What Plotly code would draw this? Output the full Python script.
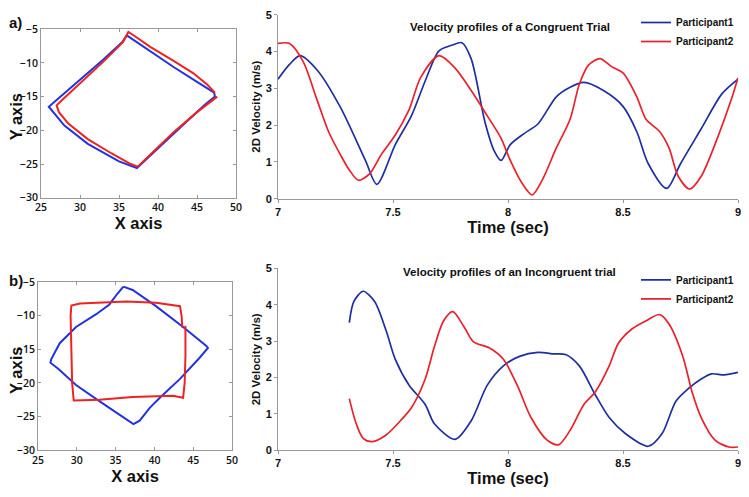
import plotly.graph_objects as go

# --- trajectories (top: congruent, bottom: incongruent) ---
traj_a_p1_x = [36.0, 38.0, 42.0, 45.0, 47.2, 47.3, 46.0, 42.0, 39.0, 37.3, 35.0, 31.0, 28.0, 26.0, 27.0, 30.0, 33.0, 35.5, 36.0]
traj_a_p1_y = [-5.9, -7.5, -10.6, -12.8, -14.4, -15.0, -16.2, -20.5, -23.8, -25.6, -24.6, -22.0, -19.3, -16.5, -15.5, -12.5, -9.5, -6.8, -5.9]
traj_a_p2_x = [47.6, 45.0, 42.0, 39.5, 37.4, 36.5, 34.0, 31.0, 28.5, 27.3, 27.0, 27.6, 30.0, 33.0, 35.5, 36.2, 37.0, 39.0, 42.0, 44.5, 46.3, 47.3]
traj_a_p2_y = [-15.0, -17.3, -20.3, -23.0, -25.4, -25.0, -23.4, -21.3, -19.0, -17.3, -16.3, -15.6, -13.0, -9.8, -6.9, -5.4, -6.0, -7.6, -9.7, -11.5, -13.2, -14.4]

traj_b_p1_x = [36.0, 35.2, 34.2, 32.5, 29.9, 27.8, 26.7, 26.6, 27.6, 29.9, 32.9, 36.0, 37.3, 38.1, 39.4, 40.7, 43.3, 45.8, 46.9, 46.7, 43.7, 40.2, 37.2, 36.0]
traj_b_p1_y = [-5.7, -6.8, -8.35, -9.8, -11.7, -14.1, -16.5, -17.0, -17.9, -20.3, -22.7, -25.1, -26.1, -25.6, -23.7, -22.2, -19.4, -16.3, -14.8, -14.5, -11.7, -8.6, -6.2, -5.7]
traj_b_p2_x = [44.0, 44.0, 43.9, 43.7, 42.4, 37.2, 32.9, 29.6, 29.4, 29.3, 29.2, 29.3, 30.4, 36.4, 40.2, 43.3, 43.5, 43.6]
traj_b_p2_y = [-11.5, -16.0, -20.0, -22.2, -21.9, -22.1, -22.5, -22.6, -20.0, -15.0, -10.0, -8.5, -8.2, -7.9, -8.1, -8.6, -10.0, -11.8]

# --- velocity profiles ---
vel_a_p1_t = [7.0, 7.05, 7.096, 7.17, 7.27, 7.38, 7.43, 7.51, 7.58, 7.64, 7.70, 7.755, 7.80, 7.84, 7.90, 7.94, 7.97, 8.01, 8.07, 8.13, 8.21, 8.27, 8.33, 8.415, 8.50, 8.56, 8.61, 8.69, 8.75, 8.84, 8.93, 9.0]
vel_a_p1_v = [3.25, 3.65, 3.89, 3.5, 2.5, 1.04, 0.39, 1.47, 2.25, 3.2, 4.02, 4.17, 4.24, 3.8, 2.08, 1.3, 1.04, 1.47, 1.77, 2.03, 2.77, 3.03, 3.16, 2.94, 2.51, 1.82, 0.95, 0.28, 0.95, 1.9, 2.85, 3.25]
vel_a_p2_t = [7.0, 7.05, 7.11, 7.17, 7.22, 7.27, 7.31, 7.35, 7.40, 7.45, 7.51, 7.57, 7.62, 7.70, 7.77, 7.84, 7.91, 7.97, 8.01, 8.06, 8.105, 8.15, 8.21, 8.27, 8.31, 8.35, 8.40, 8.45, 8.50, 8.56, 8.60, 8.66, 8.70, 8.74, 8.79, 8.84, 8.91, 8.97, 9.0]
vel_a_p2_v = [4.22, 4.22, 3.72, 2.68, 1.82, 1.21, 0.78, 0.5, 0.69, 1.21, 1.73, 2.42, 3.29, 3.89, 3.55, 2.94, 2.25, 1.64, 1.04, 0.43, 0.1, 0.52, 1.38, 2.16, 3.11, 3.63, 3.81, 3.59, 3.42, 2.77, 2.16, 1.82, 1.38, 0.61, 0.26, 0.61, 1.64, 2.68, 3.29]

vel_b_p1_t = [7.31, 7.33, 7.37, 7.42, 7.47, 7.51, 7.57, 7.64, 7.68, 7.77, 7.84, 7.91, 7.98, 8.05, 8.13, 8.20, 8.25, 8.31, 8.38, 8.44, 8.51, 8.61, 8.67, 8.73, 8.785, 8.84, 8.885, 8.94, 9.0]
vel_b_p1_v = [3.51, 4.09, 4.37, 4.09, 3.29, 2.5, 1.79, 1.26, 0.73, 0.3, 0.81, 1.79, 2.32, 2.58, 2.69, 2.65, 2.63, 2.32, 1.52, 0.9, 0.46, 0.11, 0.46, 1.35, 1.7, 1.96, 2.1, 2.07, 2.14]
vel_b_p2_t = [7.31, 7.34, 7.37, 7.41, 7.47, 7.52, 7.58, 7.64, 7.68, 7.72, 7.76, 7.81, 7.85, 7.92, 7.98, 8.04, 8.10, 8.17, 8.22, 8.27, 8.33, 8.38, 8.44, 8.48, 8.54, 8.60, 8.66, 8.70, 8.76, 8.80, 8.84, 8.90, 8.96, 9.0]
vel_b_p2_v = [1.42, 0.73, 0.33, 0.24, 0.42, 0.73, 1.17, 1.96, 2.85, 3.56, 3.81, 3.38, 2.98, 2.81, 2.5, 1.79, 0.9, 0.28, 0.15, 0.55, 1.26, 1.61, 2.32, 2.94, 3.34, 3.56, 3.73, 3.47, 2.58, 1.61, 0.9, 0.28, 0.09, 0.09]

traj_ticks_x = [25, 30, 35, 40, 45, 50]
traj_ticks_y = [-5, -10, -15, -20, -25, -30]
time_ticks = [7, 7.5, 8, 8.5, 9]
vel_ticks = [0, 1, 2, 3, 4, 5]

BLUE_TRAJ = "#2233dd"
RED_TRAJ = "#ee2222"
BLUE_VEL = "#1f2fa0"
RED_VEL = "#e8222c"

# the page body keeps an 8px margin round the figure, so the figure is made smaller
# than the window; positions below are reference-window pixels converted here
OFF = 8
REF_W, REF_H = 749, 497
W, H = REF_W - OFF, REF_H - 2 * OFF


def pt_x(a):
    return min(1, max(0, (a - OFF) / W))


def pt_y(a):
    return min(1, max(0, 1 - a / REF_H))


def px_x(a, b):
    return [pt_x(a), pt_x(b)]


def px_y(top, bottom):
    return [pt_y(bottom), pt_y(top)]


fig = go.Figure()

# left: trajectories
fig.add_trace(go.Scatter(x=traj_a_p1_x, y=traj_a_p1_y, mode="lines", line=dict(color=BLUE_TRAJ, width=2),
                         xaxis="x", yaxis="y", showlegend=False))
fig.add_trace(go.Scatter(x=traj_a_p2_x, y=traj_a_p2_y, mode="lines", line=dict(color=RED_TRAJ, width=2),
                         xaxis="x", yaxis="y", showlegend=False))
fig.add_trace(go.Scatter(x=traj_b_p1_x, y=traj_b_p1_y, mode="lines", line=dict(color=BLUE_TRAJ, width=2),
                         xaxis="x3", yaxis="y3", showlegend=False))
fig.add_trace(go.Scatter(x=traj_b_p2_x, y=traj_b_p2_y, mode="lines", line=dict(color=RED_TRAJ, width=2),
                         xaxis="x3", yaxis="y3", showlegend=False))

# right: velocity profiles
fig.add_trace(go.Scatter(x=vel_a_p1_t, y=vel_a_p1_v, mode="lines", name="Participant1",
                         line=dict(color=BLUE_VEL, width=1.7, shape="spline", smoothing=0.8),
                         xaxis="x2", yaxis="y2", legend="legend"))
fig.add_trace(go.Scatter(x=vel_a_p2_t, y=vel_a_p2_v, mode="lines", name="Participant2",
                         line=dict(color=RED_VEL, width=1.7, shape="spline", smoothing=0.8),
                         xaxis="x2", yaxis="y2", legend="legend"))
fig.add_trace(go.Scatter(x=vel_b_p1_t, y=vel_b_p1_v, mode="lines", name="Participant1",
                         line=dict(color=BLUE_VEL, width=1.7, shape="spline", smoothing=0.8),
                         xaxis="x4", yaxis="y4", legend="legend2"))
fig.add_trace(go.Scatter(x=vel_b_p2_t, y=vel_b_p2_v, mode="lines", name="Participant2",
                         line=dict(color=RED_VEL, width=1.7, shape="spline", smoothing=0.8),
                         xaxis="x4", yaxis="y4", legend="legend2"))

tick_font_l = dict(family="Open Sans", size=10.5, color="#111111", weight=600)
tick_font_r = dict(family="Arial", size=11, color="#111111", weight=600)
big_title = dict(family="Arial", size=16.5, color="#111111", weight="bold")

traj_x = dict(range=[25, 50], tickvals=traj_ticks_x, showgrid=False, zeroline=False, automargin=False,
              showline=True, linecolor="#999999", linewidth=1, mirror="allticks",
              ticks="inside", ticklen=3, tickcolor="#999999", tickfont=tick_font_l,
              ticklabeloverflow="allow",
              title=dict(text="X axis", font=big_title, standoff=2))
traj_y = dict(range=[-30, -5], tickvals=traj_ticks_y, showgrid=False, zeroline=False, automargin=False,
              showline=True, linecolor="#999999", linewidth=1, mirror="allticks",
              ticks="inside", ticklen=3, tickcolor="#999999", tickfont=tick_font_l,
              ticklabeloverflow="allow")
vel_x = dict(range=[7, 9], tickvals=time_ticks, showgrid=False, zeroline=False, automargin=False,
             showline=True, linecolor="#999999", linewidth=1,
             ticks="outside", ticklen=3, tickcolor="#999999", tickfont=tick_font_r,
             ticklabeloverflow="allow",
             title=dict(text="Time (sec)", font=dict(family="Arial", size=16.5, color="#111111", weight="bold"),
                        standoff=1))
vel_y = dict(range=[0, 5], tickvals=vel_ticks, showgrid=False, zeroline=False, automargin=False,
             showline=True, linecolor="#999999", linewidth=1,
             ticks="outside", ticklen=3, tickcolor="#999999", tickfont=tick_font_r,
             ticklabeloverflow="allow",
             title=dict(text="2D Velocity (m/s)", font=dict(family="Arial", size=11.5, color="#111111", weight="bold"),
                        standoff=2))

legend_common = dict(font=dict(family="Arial", size=10, color="#111111", weight="bold"),
                     bgcolor="rgba(255,255,255,0)", borderwidth=0, xanchor="left", yanchor="top",
                     tracegroupgap=0, itemwidth=30)

fig.update_layout(
    width=W,
    height=H,
    margin=dict(l=0, r=0, t=0, b=0, autoexpand=False),
    plot_bgcolor="white",
    paper_bgcolor="white",
    xaxis=dict(domain=px_x(41, 236), anchor="y", **traj_x),
    yaxis=dict(domain=px_y(22, 196), anchor="x", **traj_y),
    xaxis3=dict(domain=px_x(38, 232), anchor="y3", **traj_x),
    yaxis3=dict(domain=px_y(283, 457), anchor="x3", **traj_y),
    xaxis2=dict(domain=px_x(278, 738), anchor="y2", **vel_x),
    yaxis2=dict(domain=px_y(7, 197), anchor="x2", **vel_y),
    xaxis4=dict(domain=px_x(278, 738), anchor="y4", **vel_x),
    yaxis4=dict(domain=px_y(269, 457), anchor="x4", **vel_y),
    legend=dict(x=pt_x(636), y=1, **legend_common),
    legend2=dict(x=pt_x(636), y=pt_y(266), **legend_common),
)

panel_title_font = dict(family="Arial", size=11.5, color="#111111", weight="bold")
fig.add_annotation(text="Velocity profiles of a Congruent Trial", x=pt_x(510), y=pt_y(20),
                   xref="paper", yref="paper", xanchor="center", yanchor="middle",
                   showarrow=False, font=panel_title_font)
fig.add_annotation(text="Velocity profiles of an Incongruent trial", x=pt_x(510), y=pt_y(273),
                   xref="paper", yref="paper", xanchor="center", yanchor="middle",
                   showarrow=False, font=panel_title_font)

# y titles of the trajectory panels sit very close to the page edge
for yc in (113, 375):
    fig.add_annotation(text="Y axis", x=pt_x(16), y=pt_y(yc), xref="paper", yref="paper",
                       xanchor="center", yanchor="middle", textangle=-90, borderpad=0,
                       showarrow=False, font=big_title)

label_font = dict(family="Arial", size=15, color="#111111", weight="bold")
fig.add_annotation(text="a)", x=0, y=pt_y(15), xref="paper", yref="paper", borderpad=0,
                   xanchor="left", yanchor="middle", showarrow=False, font=label_font)
fig.add_annotation(text="b)", x=0, y=pt_y(282), xref="paper", yref="paper", borderpad=0,
                   xanchor="left", yanchor="middle", showarrow=False, font=label_font)

fig.write_html("out.html")
